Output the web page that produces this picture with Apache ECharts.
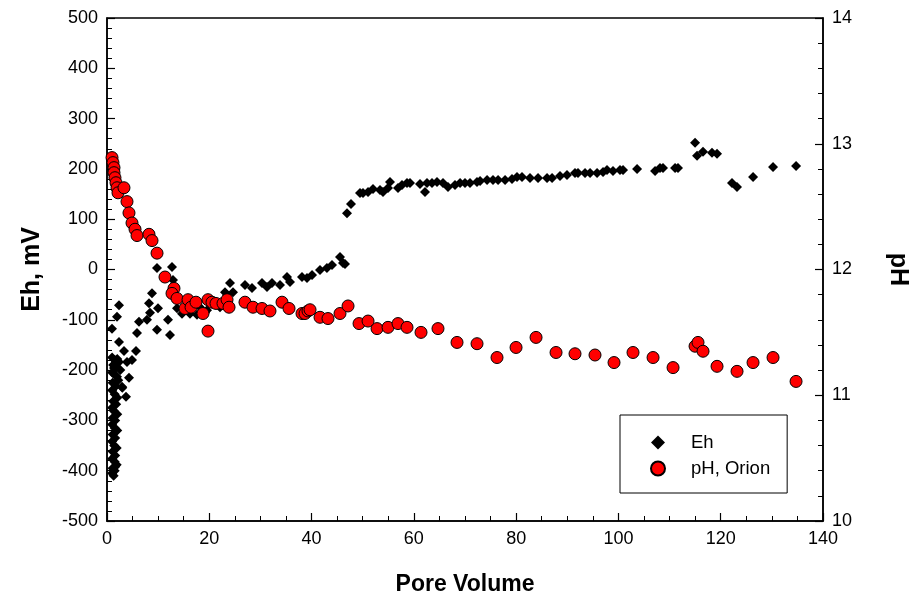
<!DOCTYPE html>
<html>
<head>
<meta charset="utf-8">
<script src="https://cdn.jsdelivr.net/npm/echarts@6/dist/echarts.min.js"></script>
<style>html,body{margin:0;padding:0;background:#fff}#c{width:912px;height:600px}</style>
</head>
<body>
<div id="c"></div>
<script>
// Eh (mV) vs pore volume
const ehPoints = [
  [1.0,-175],[1.5,-180],[2.0,-178],[1.2,-190],[1.8,-195],[2.6,-200],[1.0,-205],[1.6,-210],
  [2.2,-220],[1.1,-225],[1.7,-232],[3.0,-235],[1.0,-240],[1.5,-248],[2.0,-255],[1.2,-262],
  [1.8,-268],[1.0,-275],[1.4,-282],[2.0,-288],[1.1,-295],[1.6,-300],[1.0,-308],[1.5,-315],
  [2.0,-320],[1.1,-328],[1.6,-335],[1.0,-342],[1.4,-350],[1.9,-355],[1.1,-362],[1.6,-370],
  [1.0,-376],[1.5,-382],[1.9,-388],[1.1,-395],[1.5,-400],[1.0,-405],[1.3,-410],[1.6,-392],
  [0.98,-118],[1.96,-94],[2.35,-71],[2.35,-144],[3.32,-162],[5.67,-162],[4.89,-180],[3.91,-184],
  [2.35,-184],[1.37,-196],[4.30,-215],[2.93,-233],[3.72,-253],[1.96,-213],[5.87,-126],[6.26,-104],
  [7.82,-100],[8.21,-67],[8.80,-47],[8.41,-86],[9.97,-77],[9.78,-120],[9.78,3],[11.93,-100],
  [12.32,-130],[12.71,5],[12.91,-21],[13.69,-77],[14.67,-88],[16.23,-88],[17.60,-90],[18.19,-75],
  [19.16,-86],[19.55,-81],[22.10,-75],[23.07,-65],[23.47,-51],[23.07,-45],[24.05,-27],[24.64,-45],
  [26.98,-31],[28.35,-37],[30.31,-27],[31.28,-35],[32.26,-27],[33.83,-31],[35.20,-15],[35.78,-25],
  [38.13,-15],[39.11,-17],[40.09,-11],[41.65,-1],[43.0,3],[44.0,9],[45.56,25],[46.15,13],[46.54,11],
  [46.93,112],[47.71,130],[49.47,152],[50.06,152],[51.04,154],[52.01,160],[53.38,158],[53.97,154],
  [54.95,162],[55.34,174],[56.90,162],[57.68,168],[58.66,172],[59.25,172],[61.20,170],[62.18,154],
  [62.57,172],[63.55,172],[64.53,174],[65.70,172],[66.68,164],[68.05,168],[69.03,172],[70.00,172],
  [70.98,172],[72.35,174],[72.94,176],[74.31,178],[75.48,178],[76.46,178],[77.83,178],[79.19,180],
  [80.17,184],[81.15,184],[82.71,182],[84.28,182],[86.04,182],[87.02,182],[88.58,186],[89.95,188],
  [91.51,192],[92.10,192],[93.47,192],[94.45,192],[95.82,192],[96.99,194],[97.77,198],[98.94,196],
  [100.31,198],[100.9,198],[103.64,200],[107.16,196],[108.13,202],[108.72,202],[111.07,202],[111.65,202],
  [114.98,252],[115.37,226],[116.54,234],[118.30,232],[119.28,230],[122.21,172],[123.19,164],
  [126.32,184],[130.23,204],[134.73,206]
];
// pH (Orion) vs pore volume
const phPoints = [
  [0.98,12.89],[1.17,12.85],[1.37,12.81],[1.37,12.77],[1.56,12.73],[1.76,12.69],[1.96,12.65],[2.15,12.61],
  [3.32,12.65],[3.91,12.54],[4.30,12.45],[4.89,12.37],[5.48,12.32],[5.87,12.27],[8.21,12.28],[8.80,12.23],
  [9.78,12.13],[11.34,11.94],[13.10,11.85],[12.71,11.81],[13.69,11.77],[15.25,11.69],[15.84,11.76],[16.43,11.70],
  [17.40,11.74],[18.77,11.65],[19.75,11.51],[19.75,11.76],[20.53,11.74],[21.31,11.73],[22.68,11.73],[23.47,11.76],
  [23.86,11.70],[26.98,11.74],[28.55,11.70],[30.31,11.69],[31.87,11.67],[34.22,11.74],[35.59,11.69],[38.13,11.65],
  [38.72,11.65],[39.30,11.67],[39.70,11.68],[41.65,11.62],[43.21,11.61],[45.56,11.65],[47.13,11.71],[49.28,11.57],
  [51.04,11.59],[52.80,11.53],[54.95,11.54],[56.90,11.57],[58.66,11.54],[61.40,11.50],[64.72,11.53],[68.44,11.42],
  [72.35,11.41],[76.26,11.30],[79.98,11.38],[83.89,11.46],[87.80,11.34],[91.51,11.33],[95.42,11.32],[99.14,11.26],
  [102.85,11.34],[106.77,11.30],[110.68,11.22],[114.98,11.39],[115.56,11.42],[116.54,11.35],[119.28,11.23],
  [123.19,11.19],[126.32,11.26],[130.23,11.30],[134.73,11.11]
];
const xTicks = {min:0, max:140, step:20};
const ehTicks = {min:-500, max:500, step:100};
const phTicks = {min:10, max:14, step:1};

const font = '"Liberation Sans", Arial, sans-serif';
const chart = echarts.init(document.getElementById('c'), null, {renderer:'canvas'});
const axisCommon = {
  axisLine:{show:true, onZero:false, lineStyle:{color:'#000', width:1.5}},
  axisTick:{show:true, inside:true, length:8, lineStyle:{color:'#000', width:1.2}},
  minorTick:{show:true, length:5, lineStyle:{color:'#000', width:1}},
  splitLine:{show:false},
  axisLabel:{color:'#000', fontSize:18, fontFamily:font, margin:9},
  nameTextStyle:{color:'#000', fontSize:25, fontWeight:'bold', fontFamily:font}
};
chart.setOption({
  backgroundColor:'#fff',
  animation:false,
  grid:{left:107, right:89, top:18, bottom:79, show:true, borderColor:'#000', borderWidth:1.5,
        backgroundColor:'transparent', containLabel:false, outerBoundsMode:'none'},
  legend:{
    orient:'vertical', left:620, top:415,
    borderColor:'#000', borderWidth:1, padding:[18,17,15,30], itemGap:7,
    itemWidth:14, itemHeight:14,
    textStyle:{color:'#000', fontSize:18.5, lineHeight:14, fontFamily:font, padding:[0,0,0,21]},
    data:[{name:'Eh', icon:'diamond'},{name:'pH, Orion', icon:'circle'}]
  },
  xAxis:Object.assign({}, axisCommon, {
    type:'value', min:xTicks.min, max:xTicks.max, interval:xTicks.step,
    minorTick:Object.assign({}, axisCommon.minorTick, {splitNumber:4}),
    name:'Pore Volume', nameLocation:'middle', nameGap:52,
    nameTextStyle:Object.assign({}, axisCommon.nameTextStyle, {fontSize:23})
  }),
  yAxis:[
    Object.assign({}, axisCommon, {
      type:'value', min:ehTicks.min, max:ehTicks.max, interval:ehTicks.step, position:'left',
      minorTick:Object.assign({}, axisCommon.minorTick, {splitNumber:5}),
      name:'Eh, mV', nameLocation:'middle', nameGap:62, nameRotate:90
    }),
    Object.assign({}, axisCommon, {
      type:'value', min:phTicks.min, max:phTicks.max, interval:phTicks.step, position:'right',
      minorTick:Object.assign({}, axisCommon.minorTick, {splitNumber:5}),
      name:'pH', nameLocation:'middle', nameGap:62, nameRotate:-90
    })
  ],
  series:[
    {name:'Eh', type:'scatter', yAxisIndex:0, symbol:'diamond', symbolSize:10,
     itemStyle:{color:'#000', opacity:1}, data:ehPoints},
    {name:'pH, Orion', type:'scatter', yAxisIndex:1, symbol:'circle', symbolSize:12,
     itemStyle:{color:'#ff0000', borderColor:'#000', borderWidth:1, opacity:1}, data:phPoints}
  ]
});
</script>
</body>
</html>
